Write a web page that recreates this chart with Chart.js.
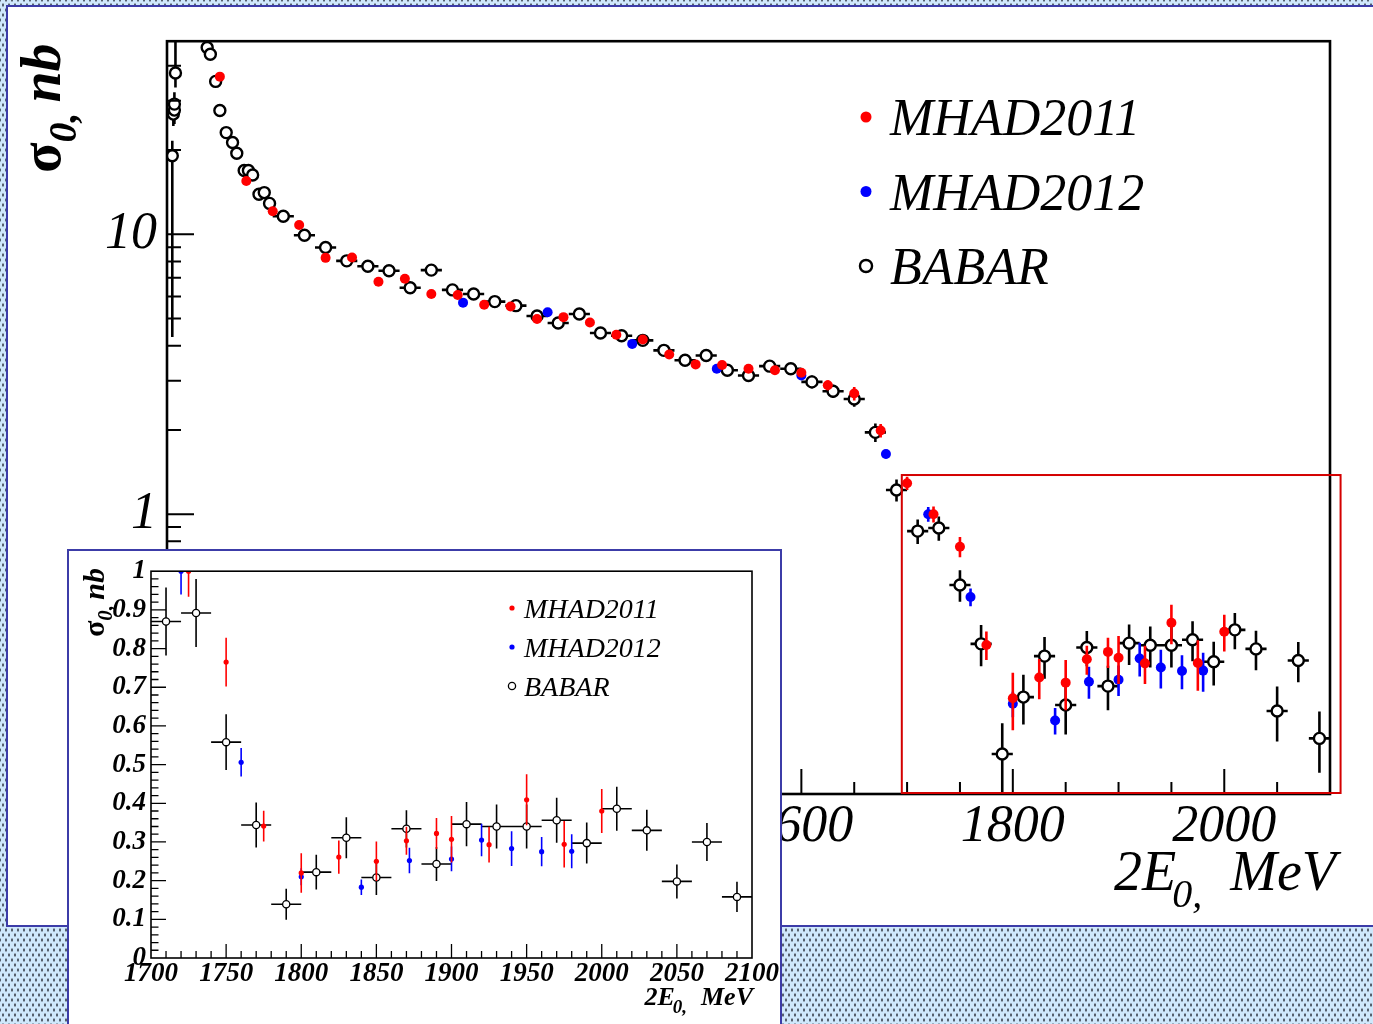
<!DOCTYPE html>
<html>

<head>
    <meta charset="utf-8">
    <script src="https://cdn.jsdelivr.net/npm/chart.js@4.4.1/dist/chart.umd.min.js"></script>
    <style>
        body {
            margin: 0;
            width: 1373px;
            height: 1024px;
            overflow: hidden;
            position: relative;
            background-color: #cfe8fc;
            background-image: radial-gradient(#56606e 0.8px, transparent 1.2px), radial-gradient(#56606e 0.8px, transparent 1.2px);
            background-size: 6px 10px;
            background-position: 0 0, 3px 5px;
        }

        .panel {
            position: absolute;
            background: #fff;
            border: 2px solid #3c3ca8;
            box-sizing: border-box;
        }

        #mainPanel { left: 6px; top: 5px; width: 1390px; height: 922px; }
        #insetPanel { left: 67px; top: 549px; width: 715px; height: 500px; }
        canvas { position: absolute; }
        #mainCanvas { left: 0; top: 0; }
        #insetCanvas { left: 68px; top: 550px; }
    </style>
</head>

<body>
    <div id="mainPanel" class="panel"></div>
    <canvas id="mainCanvas" width="1373" height="1024"></canvas>
    <div id="insetPanel" class="panel"></div>
    <canvas id="insetCanvas" width="712" height="474"></canvas>
    <script>
        // ---- data (2E0 in MeV, sigma in nb) ----
        const babarX = [1005, 1006, 1007, 1007, 1008, 1038, 1041, 1046, 1050, 1056, 1062, 1066, 1073, 1077, 1081, 1087, 1092, 1097,
            1110, 1130, 1150, 1170, 1190, 1210, 1230, 1250, 1270, 1290, 1310, 1330, 1350, 1370, 1390, 1410, 1430,
            1450, 1470, 1490, 1510, 1530, 1550, 1570, 1590, 1610, 1630, 1650, 1670, 1690,
            1710, 1730, 1750, 1770, 1790, 1810, 1830, 1850, 1870, 1890, 1910, 1930, 1950, 1970, 1990, 2010, 2030, 2050, 2070, 2090];
        const babarY = [19.1, 26.9, 27.8, 29.2, 37.7, 46.5, 44.0, 35.2, 27.7, 23.1, 21.3, 19.5, 16.9, 16.9, 16.3, 13.9, 14.1, 12.9,
            11.6, 9.92, 8.97, 8.04, 7.69, 7.41, 6.44, 7.45, 6.33, 6.12, 5.75, 5.56, 5.11, 4.82, 5.19, 4.44, 4.34,
            4.18, 3.85, 3.55, 3.69, 3.27, 3.13, 3.38, 3.31, 2.97, 2.75, 2.58, 1.96, 1.22,
            0.870, 0.892, 0.558, 0.344, 0.139, 0.222, 0.311, 0.208, 0.334, 0.243, 0.346, 0.340, 0.340, 0.356, 0.297, 0.386, 0.330, 0.198, 0.300, 0.158];
        const babarErrLo = [14.8, 2.5, 3.0, 3.0, 4.2, 1.5, 1.5, 1.2, 1.0, 0.8, 0.7, 0.7, 0.6, 0.6, 0.6, 0.5, 0.5, 0.45,
            0.4, 0.35, 0.3, 0.3, 0.28, 0.27, 0.25, 0.28, 0.25, 0.24, 0.23, 0.22, 0.2, 0.2, 0.2, 0.18, 0.18,
            0.18, 0.17, 0.16, 0.16, 0.15, 0.15, 0.16, 0.16, 0.16, 0.15, 0.16, 0.15, 0.11,
            0.088, 0.088, 0.072, 0.058, 0.040, 0.045, 0.053, 0.045, 0.048, 0.044, 0.057, 0.057, 0.057, 0.058, 0.053, 0.057, 0.053, 0.044, 0.049, 0.039];
        const babarErrHi = [2.5, 2.5, 3.0, 3.0, 12.0, 1.5, 1.5, 1.2, 1.0, 0.8, 0.7, 0.7, 0.6, 0.6, 0.6, 0.5, 0.5, 0.45,
            0.4, 0.35, 0.3, 0.3, 0.28, 0.27, 0.25, 0.28, 0.25, 0.24, 0.23, 0.22, 0.2, 0.2, 0.2, 0.18, 0.18,
            0.18, 0.17, 0.16, 0.16, 0.15, 0.15, 0.16, 0.16, 0.16, 0.15, 0.16, 0.15, 0.11,
            0.088, 0.088, 0.072, 0.058, 0.040, 0.045, 0.053, 0.045, 0.048, 0.044, 0.057, 0.057, 0.057, 0.058, 0.053, 0.057, 0.053, 0.044, 0.049, 0.039];
        const babarXErr = [1, 1, 1, 1, 1, 2, 2, 2, 2, 2, 2, 2, 2, 2, 2, 2, 2, 2,
            10, 10, 10, 10, 10, 10, 10, 10, 10, 10, 10, 10, 10, 10, 10, 10, 10,
            10, 10, 10, 10, 10, 10, 10, 10, 10, 10, 10, 10, 10,
            10, 10, 10, 10, 10, 10, 10, 10, 10, 10, 10, 10, 10, 10, 10, 10, 10, 10, 10, 10];

        const mhad11X = [1050, 1075, 1100, 1125, 1150, 1175, 1200, 1225, 1250, 1275, 1300, 1325, 1350, 1375, 1400, 1425,
            1450, 1475, 1500, 1525, 1550, 1575, 1600, 1625, 1650, 1675, 1700, 1725,
            1750, 1775, 1800, 1825, 1850, 1870, 1890, 1900, 1925, 1950, 1975, 2000];
        const mhad11Y = [36.6, 15.5, 12.1, 10.8, 8.24, 8.26, 6.77, 6.94, 6.12, 6.07, 5.60, 5.52, 4.98, 5.06, 4.84, 4.38,
            4.21, 3.72, 3.43, 3.41, 3.31, 3.27, 3.20, 2.89, 2.70, 1.99, 1.29, 1.00,
            0.765, 0.341, 0.220, 0.261, 0.250, 0.303, 0.322, 0.307, 0.293, 0.409, 0.294, 0.380];
        const mhad11Err = [1.0, 0.4, 0.3, 0.27, 0.2, 0.2, 0.17, 0.17, 0.15, 0.15, 0.14, 0.14, 0.13, 0.13, 0.12, 0.11,
            0.11, 0.1, 0.1, 0.1, 0.1, 0.1, 0.1, 0.12, 0.15, 0.11, 0.07, 0.066,
            0.063, 0.040, 0.051, 0.043, 0.051, 0.036, 0.040, 0.060, 0.046, 0.066, 0.060, 0.057];

        const mhad12X = [1280, 1360, 1440, 1520, 1600, 1680, 1720, 1760, 1800, 1840, 1872, 1900, 1920, 1940, 1960, 1980];
        const mhad12Y = [5.70, 5.27, 4.06, 3.31, 3.13, 1.64, 1.00, 0.506, 0.210, 0.183, 0.252, 0.256, 0.305, 0.283, 0.275, 0.276];
        const mhad12Err = [0.12, 0.11, 0.09, 0.08, 0.08, 0.06, 0.06, 0.037, 0.022, 0.020, 0.033, 0.032, 0.042, 0.045, 0.038, 0.044];

        // axes
        const mainXRange = [1000, 2100];
        const mainYRange = [0.1, 49];
        const insetXRange = [1700, 2100];
        const insetYRange = [0, 1];
        const mainXLabels = [1000, 1200, 1400, 1600, 1800, 2000];
        const mainXMinorStep = 50;
        const mainYLabels = [1, 10];
        const mainYMinor = [0.2, 0.3, 0.4, 0.5, 0.6, 0.7, 0.8, 0.9, 2, 3, 4, 5, 6, 7, 8, 9, 20, 30, 40];
        const insetXLabels = [1700, 1750, 1800, 1850, 1900, 1950, 2000, 2050, 2100];
        const insetXMinorStep = 10;
        const insetYLabels = [0, 0.1, 0.2, 0.3, 0.4, 0.5, 0.6, 0.7, 0.8, 0.9, 1];
        const insetYMinorStep = 0.02;
        // zoom window drawn on the main plot
        const zoomBox = { x0: 1695, x1: 2110, y0: 0.1, y1: 1.38 };

        function points(xs, ys, lo, hi, xe) {
            return xs.map((x, i) => ({ x: x, y: ys[i], lo: lo[i], hi: hi[i], xe: xe ? xe[i] : 0 }));
        }

        function stepTicks(min, max, step) {
            const out = [];
            for (let v = min; v <= max + 1e-9; v += step) out.push(Math.round(v * 1000) / 1000);
            return out;
        }

        function has(list, v) {
            return list.some(l => Math.abs(l - v) < 1e-6);
        }

        function setTicks(labels, minor) {
            return function (scale) {
                const all = labels.concat(minor.filter(v => !has(labels, v))).sort((a, b) => a - b);
                scale.ticks = all.map(v => ({ value: v, major: has(labels, v) }));
            };
        }

        function datasets(size) {
            return [
                {
                    label: 'MHAD2011', data: points(mhad11X, mhad11Y, mhad11Err, mhad11Err),
                    pointRadius: size.dot, pointBackgroundColor: '#ff0000', pointBorderWidth: 0,
                    errColor: '#ff0000', clip: 0
                },
                {
                    label: 'MHAD2012', data: points(mhad12X, mhad12Y, mhad12Err, mhad12Err),
                    pointRadius: size.dot, pointBackgroundColor: '#0000ff', pointBorderWidth: 0,
                    errColor: '#0000ff', clip: 0
                },
                {
                    label: 'BABAR', data: points(babarX, babarY, babarErrLo, babarErrHi, babarXErr),
                    pointRadius: size.ring, pointBackgroundColor: '#ffffff', pointBorderColor: '#000000',
                    pointBorderWidth: size.ringWidth, errColor: '#000000', clip: 0
                }
            ];
        }

        // vertical / horizontal error bars, drawn just under each dataset's markers
        function errorBars(lineWidth) {
            return {
                id: 'errorBars',
                beforeDatasetDraw(chart, args) {
                    const ds = chart.data.datasets[args.index];
                    const { ctx, chartArea: a } = chart;
                    const xs = chart.scales.x, ys = chart.scales.y;
                    const floor = ys.type === 'logarithmic' ? ys.min * 0.5 : ys.min - 1;
                    ctx.save();
                    ctx.beginPath();
                    ctx.rect(a.left, a.top, a.right - a.left, a.bottom - a.top);
                    ctx.clip();
                    ctx.strokeStyle = ds.errColor;
                    ctx.lineWidth = lineWidth;
                    ctx.beginPath();
                    ds.data.forEach(p => {
                        const px = xs.getPixelForValue(p.x);
                        const py = ys.getPixelForValue(p.y);
                        ctx.moveTo(px, ys.getPixelForValue(Math.max(p.y - p.lo, floor)));
                        ctx.lineTo(px, ys.getPixelForValue(p.y + p.hi));
                        if (p.xe) {
                            ctx.moveTo(xs.getPixelForValue(p.x - p.xe), py);
                            ctx.lineTo(xs.getPixelForValue(p.x + p.xe), py);
                        }
                    });
                    ctx.stroke();
                    ctx.restore();
                }
            };
        }

        // ROOT style frame with ticks pointing inwards
        function frameTicks(cfg) {
            return {
                id: 'frameTicks',
                afterDatasetsDraw(chart) {
                    const { ctx, chartArea: a } = chart;
                    ctx.save();
                    ctx.strokeStyle = '#000';
                    ctx.lineWidth = cfg.tickWidth;
                    ctx.beginPath();
                    chart.scales.x.ticks.forEach(t => {
                        const px = chart.scales.x.getPixelForValue(t.value);
                        if (px < a.left + 1 || px > a.right - 1) return;
                        ctx.moveTo(px, a.bottom);
                        ctx.lineTo(px, a.bottom - (t.major ? cfg.xMajor : cfg.xMinor));
                    });
                    chart.scales.y.ticks.forEach(t => {
                        const py = chart.scales.y.getPixelForValue(t.value);
                        if (py < a.top + 1 || py > a.bottom - 1) return;
                        ctx.moveTo(a.left, py);
                        ctx.lineTo(a.left + (t.major ? cfg.yMajor : cfg.yMinor), py);
                    });
                    ctx.stroke();
                    ctx.lineWidth = cfg.frameWidth;
                    ctx.strokeRect(a.left, a.top, a.right - a.left, a.bottom - a.top);
                    ctx.restore();
                }
            };
        }

        function marker(ctx, ds, x, y, scale) {
            ctx.beginPath();
            ctx.arc(x, y, ds.pointRadius * scale, 0, Math.PI * 2);
            ctx.fillStyle = ds.pointBackgroundColor;
            ctx.fill();
            if (ds.pointBorderWidth) {
                ctx.lineWidth = ds.pointBorderWidth;
                ctx.strokeStyle = ds.pointBorderColor;
                ctx.stroke();
            }
        }

        function legend(cfg) {
            return {
                id: 'rootLegend',
                afterDraw(chart) {
                    const ctx = chart.ctx;
                    ctx.save();
                    ctx.font = cfg.font;
                    ctx.fillStyle = '#000';
                    ctx.textBaseline = 'alphabetic';
                    chart.data.datasets.forEach((ds, i) => {
                        const cy = cfg.y + i * cfg.dy;
                        marker(ctx, ds, cfg.x, cy, cfg.markerScale);
                        ctx.fillStyle = '#000';
                        ctx.fillText(ds.label, cfg.x + cfg.textGap, cy + cfg.baseline);
                    });
                    ctx.restore();
                }
            };
        }

        // axis titles: "2E0, MeV" and "σ0, nb" with subscript 0
        function titles(cfg) {
            return {
                id: 'axisTitles',
                afterDraw(chart) {
                    const { ctx, chartArea: a } = chart;
                    ctx.save();
                    ctx.fillStyle = '#000';
                    ctx.textBaseline = 'alphabetic';
                    // x title, right aligned at the frame edge
                    const big = cfg.xStyle + ' ' + cfg.xSize + 'px "Liberation Serif"';
                    const small = cfg.xStyle + ' ' + cfg.xSub + 'px "Liberation Serif"';
                    ctx.font = big;
                    const wMeV = ctx.measureText('MeV').width;
                    const w2E = ctx.measureText('2E').width;
                    ctx.font = small;
                    const wSub = ctx.measureText('0,').width;
                    let x = a.right + cfg.xRightShift - wMeV;
                    ctx.font = big;
                    ctx.fillText('MeV', x, cfg.xBase);
                    x -= cfg.xGap + wSub;
                    ctx.font = small;
                    ctx.fillText('0,', x, cfg.xBase + cfg.xSubDrop);
                    x -= w2E - cfg.xKern;
                    ctx.font = big;
                    ctx.fillText('2E', x, cfg.xBase);

                    // y title, rotated
                    ctx.translate(cfg.yBaseX, cfg.yStart);
                    ctx.rotate(-Math.PI / 2);
                    ctx.font = 'bold ' + cfg.ySize + 'px "Liberation Serif"';
                    ctx.fillText('σ', 0, 0);
                    let t = ctx.measureText('σ').width;
                    ctx.font = 'italic bold ' + cfg.ySub + 'px "Liberation Serif"';
                    ctx.fillText('0,', t, cfg.ySubDrop);
                    t += ctx.measureText('0, ').width;
                    ctx.font = 'italic bold ' + cfg.ySize + 'px "Liberation Serif"';
                    ctx.fillText('nb', t + cfg.yGap, 0);
                    ctx.restore();
                }
            };
        }

        const zoomFrame = {
            id: 'zoomFrame',
            afterDraw(chart) {
                const { ctx } = chart;
                const xs = chart.scales.x, ys = chart.scales.y;
                const l = xs.getPixelForValue(zoomBox.x0), r = xs.getPixelForValue(zoomBox.x1);
                const t = ys.getPixelForValue(zoomBox.y1), b = ys.getPixelForValue(zoomBox.y0);
                ctx.save();
                ctx.strokeStyle = '#d40000';
                ctx.lineWidth = 2;
                ctx.strokeRect(l, t, r - l, b - t - 1);
                ctx.restore();
            }
        };

        function axisOptions(type, range, labels, minor, tickFont, pad, fit) {
            return {
                type: type, min: range[0], max: range[1],
                grid: { display: false, drawTicks: false },
                border: { display: false },
                afterBuildTicks: setTicks(labels, minor),
                afterFit: fit,
                ticks: {
                    autoSkip: false, maxRotation: 0, minRotation: 0, padding: pad, color: '#000',
                    font: tickFont,
                    callback: v => has(labels, v) ? String(v) : ''
                }
            };
        }

        const mainSize = { dot: 5, ring: 5.5, ringWidth: 2.4 };
        const mainFont = { family: '"Liberation Serif"', size: 52, style: 'italic', weight: 'normal' };
        const mainChart = new Chart(document.getElementById('mainCanvas'), {
            type: 'scatter',
            data: { datasets: datasets(mainSize) },
            options: {
                responsive: false, animation: false, events: [],
                layout: { autoPadding: false, padding: { top: 39, right: 43, left: 0, bottom: 0 } },
                scales: {
                    x: axisOptions('linear', mainXRange, mainXLabels, stepTicks(mainXRange[0], mainXRange[1] - 1, mainXMinorStep),
                        mainFont, 2, s => { s.height = 230; }),
                    y: axisOptions('logarithmic', mainYRange, mainYLabels, mainYMinor, mainFont, 10, s => { s.width = 167; })
                },
                plugins: { legend: { display: false }, tooltip: { enabled: false } }
            },
            plugins: [
                errorBars(2.6),
                frameTicks({ tickWidth: 2, frameWidth: 2.6, xMajor: 25, xMinor: 12, yMajor: 27, yMinor: 14 }),
                zoomFrame,
                legend({ font: 'italic 52px "Liberation Serif"', x: 866, y: 117, dy: 74.5, textGap: 24, baseline: 18, markerScale: 1.1 }),
                titles({
                    xStyle: 'italic', xSize: 56, xSub: 40, xBase: 890, xSubDrop: 17, xGap: 28, xKern: 4, xRightShift: 6,
                    yBaseX: 60, yStart: 173, ySize: 56, ySub: 40, ySubDrop: 16, yGap: 0
                })
            ]
        });

        const insetSize = { dot: 2.6, ring: 3.6, ringWidth: 1.3 };
        const insetFont = { family: '"Liberation Serif"', size: 27, style: 'italic', weight: 'bold' };
        const insetChart = new Chart(document.getElementById('insetCanvas'), {
            type: 'scatter',
            data: { datasets: datasets(insetSize) },
            options: {
                responsive: false, animation: false, events: [],
                layout: { autoPadding: false, padding: { top: 18, right: 28, left: 0, bottom: 0 } },
                scales: {
                    x: axisOptions('linear', insetXRange, insetXLabels, stepTicks(insetXRange[0], insetXRange[1], insetXMinorStep),
                        insetFont, 0, s => { s.height = 66; }),
                    y: axisOptions('linear', insetYRange, insetYLabels, stepTicks(insetYRange[0], insetYRange[1], insetYMinorStep),
                        insetFont, 5, s => { s.width = 83; })
                },
                plugins: { legend: { display: false }, tooltip: { enabled: false } }
            },
            plugins: [
                errorBars(1.6),
                frameTicks({ tickWidth: 1.3, frameWidth: 1.6, xMajor: 14, xMinor: 7, yMajor: 15, yMinor: 7.5 }),
                legend({ font: 'italic 28px "Liberation Serif"', x: 444, y: 58, dy: 39, textGap: 12, baseline: 9.5, markerScale: 1 }),
                titles({
                    xStyle: 'italic bold', xSize: 26, xSub: 19, xBase: 455, xSubDrop: 8, xGap: 14, xKern: 2, xRightShift: 1,
                    yBaseX: 36, yStart: 87, ySize: 30, ySub: 21, ySubDrop: 8, yGap: 0
                })
            ]
        });
    </script>
</body>

</html>
